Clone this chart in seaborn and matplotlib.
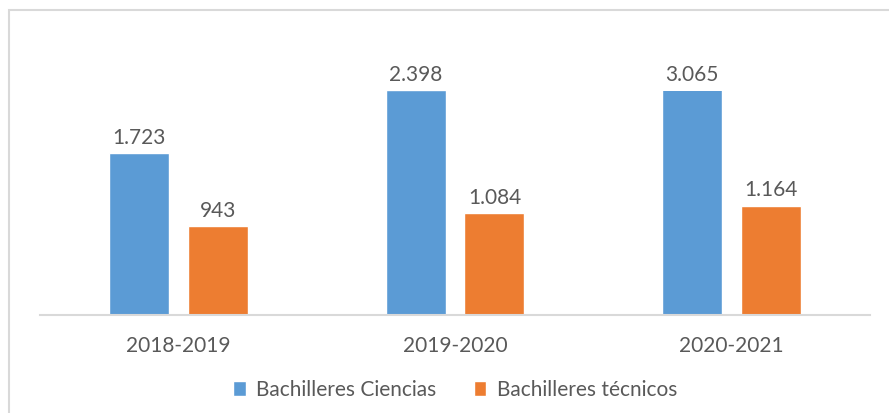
import pandas as pd
import matplotlib.pyplot as plt
import seaborn as sns
from matplotlib.patches import Rectangle

periodos = ['2018-2019', '2019-2020', '2020-2021']
ciencias = [1723, 2398, 3065]
tecnicos = [943, 1084, 1164]
series = ['Bachilleres Ciencias', 'Bachilleres técnicos']
colores = ['#5B9BD5', '#ED7D31']

df = pd.DataFrame({
    'periodo': periodos * 2,
    'valor': ciencias + tecnicos,
    'serie': [series[0]] * 3 + [series[1]] * 3,
})

sns.set_style('white')
plt.rcParams['font.family'] = ['Lato', 'DejaVu Sans']
gris = '#595959'

fig = plt.figure(figsize=(8.89, 4.13), dpi=100)
ax = fig.add_axes([40 / 889, 98 / 413, 830 / 889, 224 / 413])
sns.barplot(data=df, x='periodo', y='valor', hue='serie', palette=colores,
            width=0.57, gap=0.24, ax=ax, legend=True, saturation=1)

ymax = 2385
ax.set_ylim(0, ymax)
ax.set_xlim(-0.5, 2.5)

def fmt(v):
    return f'{int(v):,}'.replace(',', '.')

for cont in ax.containers:
    for bar, v in zip(cont, cont.datavalues):
        top = min(v, ymax)
        ax.annotate(fmt(v), (bar.get_x() + bar.get_width() / 2, top),
                    xytext=(0, 4), textcoords='offset points',
                    ha='center', va='bottom', fontsize=15, color=gris,
                    annotation_clip=False)

for s in ['top', 'right', 'left']:
    ax.spines[s].set_visible(False)
ax.spines['bottom'].set_color('#d9d9d9')
ax.spines['bottom'].set_linewidth(1.5)
ax.set_yticks([])
ax.set_xlabel('')
ax.set_ylabel('')
ax.tick_params(axis='x', length=0, labelsize=15, labelcolor=gris, pad=15)

leg = ax.legend(loc='center', bbox_to_anchor=(0.5, -0.335), ncol=2, frameon=False,
                fontsize=15, handlelength=0.6, handleheight=0.7, handletextpad=0.5,
                columnspacing=1.8)
for t in leg.get_texts():
    t.set_color(gris)

fig.patches.append(Rectangle((9 / 889, -0.1), 1.0, 1.1 - 10 / 413,
                             transform=fig.transFigure, fill=False,
                             edgecolor='#d9d9d9', linewidth=1.5))

fig.savefig('out.png', dpi=100)
